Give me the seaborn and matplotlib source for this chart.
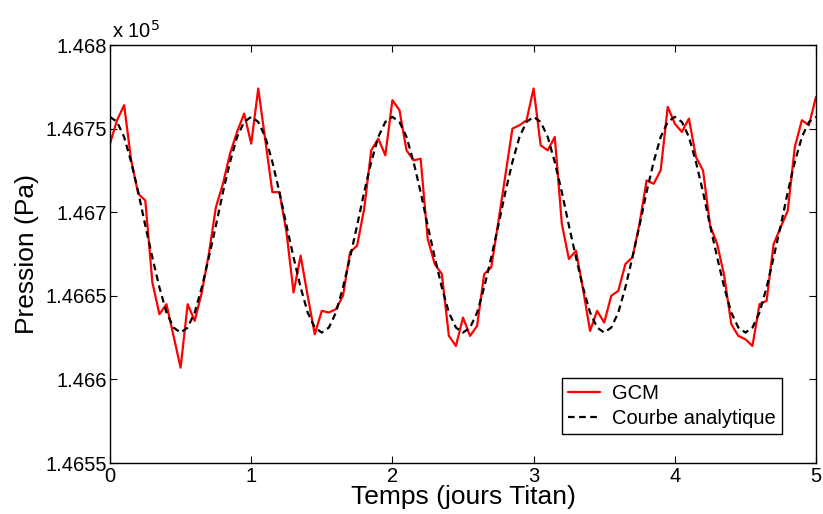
import numpy as np
import pandas as pd
import matplotlib
matplotlib.use("Agg")
import matplotlib.pyplot as plt
import seaborn as sns

# ---- data (Pa), sampled every 0.05 Titan day from 0 to 5 ----
time_days = np.round(np.arange(101) * 0.05, 2)

gcm_pa = [
    146741, 146755, 146764, 146731, 146711, 146707, 146658, 146639, 146645, 146626,
    146607, 146645, 146635, 146652, 146675, 146703, 146717, 146735, 146748, 146759,
    146741, 146774, 146743, 146712, 146712, 146688, 146652, 146674, 146650, 146627,
    146641, 146640, 146642, 146650, 146676, 146680, 146702, 146737, 146744, 146734,
    146767, 146761, 146737, 146731, 146732, 146684, 146669, 146663, 146626, 146620,
    146637, 146626, 146632, 146663, 146667, 146694, 146722, 146750, 146752, 146755,
    146774, 146740, 146737, 146745, 146693, 146672, 146677, 146654, 146629, 146641,
    146634, 146650, 146653, 146669, 146673, 146693, 146719, 146717, 146725, 146763,
    146753, 146748, 146756, 146733, 146725, 146692, 146681, 146662, 146633, 146626,
    146624, 146620, 146645, 146647, 146681, 146691, 146701, 146739, 146755, 146752,
    146769,
]

analytic_pa = [
    146757, 146754, 146745, 146730, 146712, 146692, 146673, 146655, 146640, 146631,
    146628, 146631, 146640, 146655, 146673, 146692, 146712, 146730, 146745, 146754,
    146757, 146754, 146745, 146730, 146712, 146692, 146673, 146655, 146640, 146631,
    146628, 146631, 146640, 146655, 146673, 146692, 146712, 146730, 146745, 146754,
    146757, 146754, 146745, 146730, 146712, 146692, 146673, 146655, 146640, 146631,
    146628, 146631, 146640, 146655, 146673, 146692, 146712, 146730, 146745, 146754,
    146757, 146754, 146745, 146730, 146712, 146692, 146673, 146655, 146640, 146631,
    146628, 146631, 146640, 146655, 146673, 146692, 146712, 146730, 146745, 146754,
    146757, 146754, 146745, 146730, 146712, 146692, 146673, 146655, 146640, 146631,
    146628, 146631, 146640, 146655, 146673, 146692, 146712, 146730, 146745, 146754,
    146757,
]

series_names = ["GCM", "Courbe analytique"]
x_ticks = [0, 1, 2, 3, 4, 5]
y_ticks = [1.4655, 1.466, 1.4665, 1.467, 1.4675, 1.468]
y_tick_labels = ["1.4655", "1.466", "1.4665", "1.467", "1.4675", "1.468"]

df = pd.DataFrame({
    "t": np.concatenate([time_days, time_days]),
    "p": np.concatenate([np.array(gcm_pa) / 1e5, np.array(analytic_pa) / 1e5]),
    "serie": [series_names[0]] * len(gcm_pa) + [series_names[1]] * len(analytic_pa),
})

sns.set_theme(style="white")
plt.rcParams["font.family"] = ["Liberation Sans", "DejaVu Sans"]
plt.rcParams["text.color"] = "black"
plt.rcParams["axes.labelcolor"] = "black"

fig = plt.figure(figsize=(8.23, 5.14), dpi=100)
ax = fig.add_axes([110 / 823, 51 / 514, 706 / 823, 418 / 514])

sns.lineplot(data=df, x="t", y="p", hue="serie", style="serie",
             palette={"GCM": "#ff0000", "Courbe analytique": "#000000"},
             dashes={"GCM": "", "Courbe analytique": (3, 2)},
             linewidth=1.6, ax=ax, legend=True, sort=False)

ax.set_xlim(0, 5)
ax.set_ylim(1.4655, 1.468)
ax.set_xticks(x_ticks)
ax.set_xticklabels([str(v) for v in x_ticks])
ax.set_yticks(y_ticks)
ax.set_yticklabels(y_tick_labels)

for s in ax.spines.values():
    s.set_visible(True)
    s.set_color("black")
    s.set_linewidth(1.0)

ax.tick_params(direction="in", length=5, width=0.8, colors="black",
               labelsize=14.5, top=True, right=True, bottom=True, left=True,
               pad=3)
ax.tick_params(axis="y", pad=2)

ax.set_xlabel("Temps (jours Titan)", fontsize=19, labelpad=-1, color="black")
ax.set_ylabel("Pression (Pa)", fontsize=19, labelpad=5, color="black")

ax.text(0.003, 1.008, r"x 10$^5$", transform=ax.transAxes, ha="left",
        va="bottom", fontsize=14.5, color="black")

leg = ax.legend(loc="lower right", bbox_to_anchor=(0.952, 0.069),
                borderaxespad=0, fontsize=14.5, frameon=True, fancybox=False,
                handlelength=1.6, handletextpad=0.6, borderpad=0.3,
                labelspacing=0.3, title=None)
for txt in leg.get_texts():
    txt.set_color("black")
leg.get_frame().set_edgecolor("black")
leg.get_frame().set_linewidth(1.0)
leg.get_frame().set_facecolor("white")
leg.get_frame().set_alpha(1)

fig.savefig("out.png", dpi=100, facecolor="white")
